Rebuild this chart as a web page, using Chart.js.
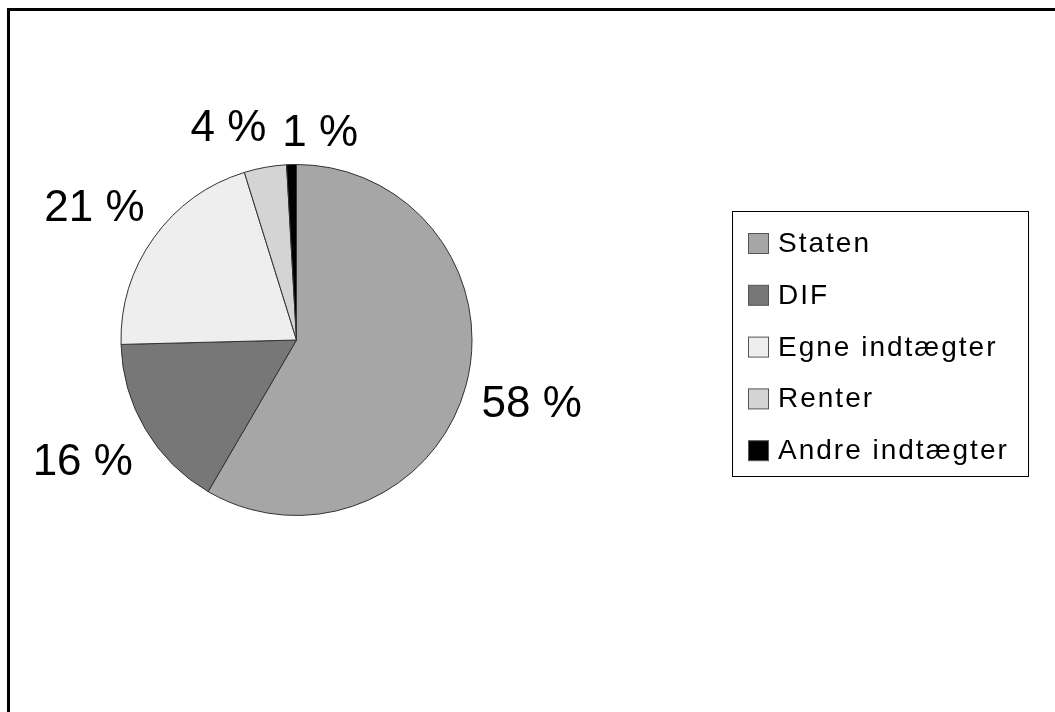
<!DOCTYPE html>
<html>
<head>
<meta charset="utf-8">
<script src="https://cdn.jsdelivr.net/npm/chart.js@4/dist/chart.umd.min.js"></script>
<style>
  html, body { margin: 0; padding: 0; background: #fff; }
  #wrap { width: 1055px; height: 712px; position: relative; }
</style>
</head>
<body>
<div id="wrap"><canvas id="c" width="1055" height="712"></canvas></div>
<script>
const categories = ["Staten", "DIF", "Egne indtægter", "Renter", "Andre indtægter"];
const shares = [58.4, 16.2, 20.6, 3.9, 0.9];
const sliceColors = ["#a6a6a6", "#777777", "#eeeeee", "#d4d4d4", "#000000"];

const FONT = '"Liberation Sans", Arial, sans-serif';

const framePlugin = {
  id: 'frame',
  beforeDraw(chart) {
    const ctx = chart.ctx;
    ctx.save();
    ctx.fillStyle = '#ffffff';
    ctx.fillRect(0, 0, chart.width, chart.height);
    ctx.strokeStyle = '#000000';
    ctx.lineWidth = 3;
    ctx.strokeRect(8.5, 9.5, 2000, 2000);
    ctx.restore();
  }
};

const labelPlugin = {
  id: 'outsideLabels',
  afterDatasetsDraw(chart) {
    const ctx = chart.ctx;
    const meta = chart.getDatasetMeta(0);
    const values = chart.data.datasets[0].data;
    ctx.save();
    ctx.font = '44px ' + FONT;
    ctx.fillStyle = '#000';
    ctx.textAlign = 'center';
    ctx.textBaseline = 'alphabetic';
    const capH = 31.5;
    const gap = 18;
    const boxes = [];
    meta.data.forEach((arc, i) => {
      const mid = (arc.startAngle + arc.endAngle) / 2;
      const dx = Math.cos(mid), dy = Math.sin(mid);
      const txt = Math.round(values[i]) + ' %';
      const w = ctx.measureText(txt).width;
      const px = arc.x + (arc.outerRadius + gap) * dx;
      const py = arc.y + (arc.outerRadius + gap) * dy;
      boxes.push({txt, w,
        cx: px + dx * w / 2 - (dx < 0 ? 4 : 0),
        cy: py + dy * capH / 2 + dy * Math.abs(dx) * 28});
    });
    // spread overlapping neighbours apart horizontally
    for (let j = 1; j < boxes.length; j++) {
      const a = boxes[j - 1], b = boxes[j];
      const overlapY = Math.abs(a.cy - b.cy) < capH + 4;
      const need = (a.w + b.w) / 2 + 16 - (b.cx - a.cx);
      if (overlapY && need > 0) {
        a.cx -= need * 0.4;
        b.cx += need * 0.6;
        a.cy -= 4;
      }
    }
    boxes.forEach(b => ctx.fillText(b.txt, b.cx, b.cy + capH / 2));
    ctx.restore();
  },
  afterDraw(chart) {
    const ctx = chart.ctx;
    const ds = chart.data.datasets[0];
    ctx.save();
    ctx.strokeStyle = '#000';
    ctx.lineWidth = 1;
    ctx.fillStyle = '#fff';
    ctx.fillRect(732.5, 211.5, 296, 265);
    ctx.strokeRect(732.5, 211.5, 296, 265);
    ctx.font = '28px ' + FONT;
    if ('letterSpacing' in ctx) ctx.letterSpacing = '2px';
    ctx.textAlign = 'left';
    ctx.textBaseline = 'alphabetic';
    chart.data.labels.forEach((lab, i) => {
      const top = 233 + i * 51.8;
      ctx.fillStyle = ds.backgroundColor[i];
      ctx.fillRect(748.5, top + 0.5, 20, 20);
      ctx.strokeStyle = '#555';
      ctx.strokeRect(748.5, top + 0.5, 20, 20);
      ctx.fillStyle = '#000';
      ctx.fillText(lab, 778, top + 19);
    });
    ctx.restore();
  }
};

new Chart(document.getElementById('c'), {
  type: 'pie',
  data: {
    labels: categories,
    datasets: [{
      data: shares,
      backgroundColor: sliceColors,
      borderColor: '#333333',
      borderWidth: 1,
      hoverOffset: 0
    }]
  },
  options: {
    responsive: false,
    animation: false,
    devicePixelRatio: 1,
    layout: { padding: { left: 120, top: 164, right: 582, bottom: 196 } },
    plugins: {
      legend: { display: false },
      tooltip: { enabled: false }
    }
  },
  plugins: [framePlugin, labelPlugin]
});
</script>
</body>
</html>
